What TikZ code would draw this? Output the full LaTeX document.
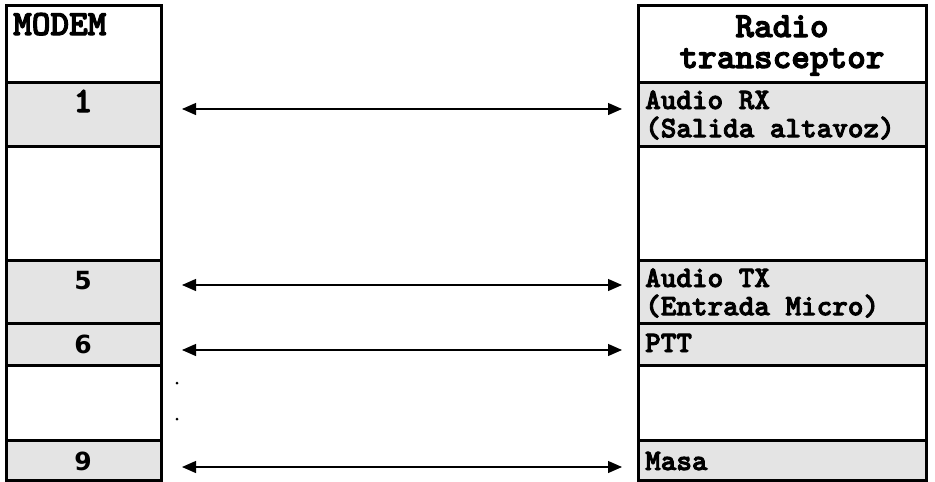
\documentclass[tikz,border=0pt]{standalone}
\usepackage{fontspec}
\newfontfamily\digitfont{DejaVu Sans}
\newfontfamily\typefont[RawFeature={embolden=3}]{lmmonolt10-bold.otf}
\usetikzlibrary{arrows.meta}
\definecolor{pingray}{RGB}{228,228,228}

\begin{document}
\begin{tikzpicture}[x=1pt,y=1pt,yscale=-1,xscale=1,
  cell/.style={draw, line width=3pt, inner sep=0pt},
  lcell/.style={cell, minimum width=154.5pt},
  rcell/.style={cell, minimum width=288.5pt},
  headtxt/.style={font=\typefont\fontsize{35.5}{31}\selectfont, inner sep=0pt},
  pintxt/.style={font=\typefont\fontsize{29.7}{25.5}\selectfont, inner sep=0pt, anchor=base west},
  numtxt/.style={font=\digitfont\bfseries\fontsize{25}{25}\selectfont, inner sep=0pt, anchor=base},
  link/.style={line width=1.2pt, {Triangle[length=14pt,width=12pt]}-{Triangle[length=14pt,width=12pt]}}]
 \useasboundingbox (0,0) rectangle (935,482);

 % modem column
 \node [lcell, minimum height=76.5pt] (mhead) at (83.75,43.75) {};
 \node [lcell, fill=pingray, minimum height=64pt] (m1) at (83.75,114) {};
 \node [lcell, minimum height=114pt] (mgap1) at (83.75,203) {};
 \node [lcell, fill=pingray, minimum height=63.5pt] (m5) at (83.75,291.75) {};
 \node [lcell, fill=pingray, minimum height=41.5pt] (m6) at (83.75,344.25) {};
 \node [lcell, minimum height=75pt] (mgap2) at (83.75,402.5) {};
 \node [lcell, fill=pingray, minimum height=40.5pt] (m9) at (83.75,460.25) {};

 % radio column
 \node [rcell, minimum height=76.5pt] (rhead) at (782.25,43.75) {};
 \node [rcell, fill=pingray, minimum height=64pt] (r1) at (782.25,114) {};
 \node [rcell, minimum height=114pt] (rgap1) at (782.25,203) {};
 \node [rcell, fill=pingray, minimum height=63.5pt] (r5) at (782.25,291.75) {};
 \node [rcell, fill=pingray, minimum height=41.5pt] (r6) at (782.25,344.25) {};
 \node [rcell, minimum height=75pt] (rgap2) at (782.25,402.5) {};
 \node [rcell, fill=pingray, minimum height=40.5pt] (r9) at (782.25,460.25) {};

 \node [headtxt, anchor=base west] (tmodem) at (13,35) {MODEM};
 \node [headtxt, anchor=base] (tradio) at (782,37) {\begin{tabular}[t]{@{}c@{}}Radio\\transceptor\end{tabular}};

 \node [headtxt, anchor=base] (tm1) at (83,112) {1};
 \node [numtxt] (tm5) at (83,289) {5};
 \node [numtxt] (tm6) at (83,353) {6};
 \node [numtxt] (tm9) at (83,470) {9};

 \node [pintxt] (tr1) at (645,109) {\begin{tabular}[t]{@{}l@{}}Audio RX\\(Salida altavoz)\end{tabular}};
 \node [pintxt] (tr5) at (645,287) {\begin{tabular}[t]{@{}l@{}}Audio TX\\(Entrada Micro)\end{tabular}};
 \node [pintxt] (tr6) at (645,352) {PTT};
 \node [pintxt] (tr9) at (645,470) {Masa};

 \coordinate (a1) at (182,109);  \coordinate (b1) at (622,109);
 \coordinate (a5) at (182,285);  \coordinate (b5) at (622,285);
 \coordinate (a6) at (182,350);  \coordinate (b6) at (622,350);
 \coordinate (a9) at (182,467);  \coordinate (b9) at (622,467);
 \draw [link] (a1) -- (b1);
 \draw [link] (a5) -- (b5);
 \draw [link] (a6) -- (b6);
 \draw [link] (a9) -- (b9);

 \fill (177,383) circle (1.5);
 \fill (177,419) circle (1.5);
\end{tikzpicture}
\end{document}
